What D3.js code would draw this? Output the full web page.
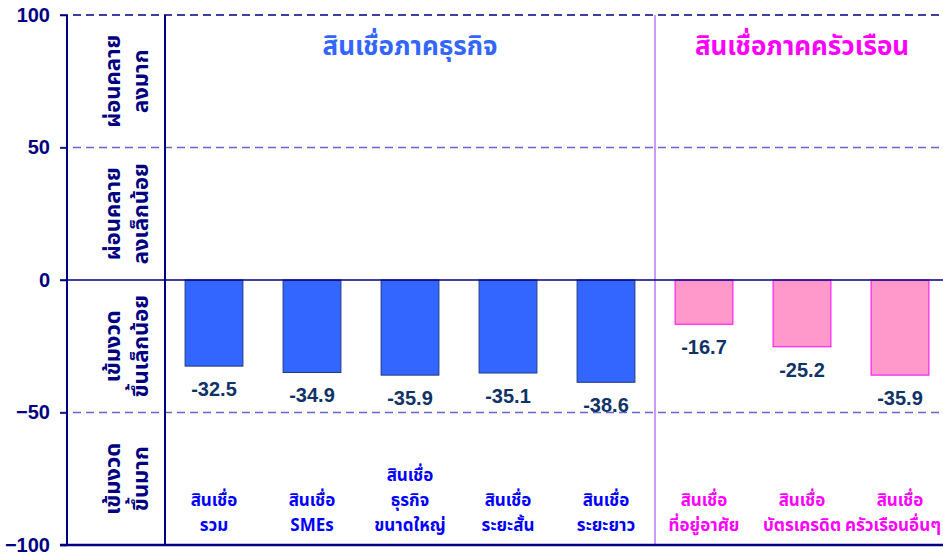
<!DOCTYPE html>
<html>
<head>
<meta charset="utf-8">
<script src="https://cdn.jsdelivr.net/npm/d3@7"></script>
<style>
  html, body { margin: 0; padding: 0; background: #fff; }
  svg { display: block; }
</style>
</head>
<body>
<div id="chart"></div>
<script>
// ── Data ──────────────────────────────────────────────
const categories = [
  ['สินเชื่อ', 'รวม'],
  ['สินเชื่อ', 'SMEs'],
  ['สินเชื่อ', 'ธุรกิจ', 'ขนาดใหญ่'],
  ['สินเชื่อ', 'ระยะสั้น'],
  ['สินเชื่อ', 'ระยะยาว'],
  ['สินเชื่อ', 'ที่อยู่อาศัย'],
  ['สินเชื่อ', 'บัตรเครดิต'],
  ['สินเชื่อ', 'ครัวเรือนอื่นๆ'],
];
const values = [-32.5, -34.9, -35.9, -35.1, -38.6, -16.7, -25.2, -35.9];
const groups = ['biz', 'biz', 'biz', 'biz', 'biz', 'hh', 'hh', 'hh'];
const groupTitles = { biz: 'สินเชื่อภาคธุรกิจ', hh: 'สินเชื่อภาคครัวเรือน' };
const yTicks = [-100, -50, 0, 50, 100];
const bandLabels = [
  { from: 50, to: 100, lines: ['ผ่อนคลาย', 'ลงมาก'] },
  { from: 0, to: 50, lines: ['ผ่อนคลาย', 'ลงเล็กน้อย'] },
  { from: -50, to: 0, lines: ['เข้มงวด', 'ขึ้นเล็กน้อย'] },
  { from: -100, to: -50, lines: ['เข้มงวด', 'ขึ้นมาก'] },
];

// ── Chart ─────────────────────────────────────────────
const W = 943, H = 554;
const FONT = "Tahoma, 'Noto Sans Thai', 'Leelawadee UI', Arial, sans-serif";
const NAVY = '#000080';
const colors = {
  biz: { fill: '#3366ff', stroke: '#1f3a80', text: '#0000ff', title: '#3366ff' },
  hh:  { fill: '#ff99cc', stroke: '#ff00ff', text: '#ff00ff', title: '#ff00ff' },
};

const svg = d3.select('#chart').append('svg')
  .attr('width', W).attr('height', H);

const axisX = 67;
const y = d3.scaleLinear().domain([-100, 100]).range([545, 15]);
const x = d3.scaleBand().domain(d3.range(categories.length))
  .range([165, 949]).paddingInner(0.41).paddingOuter(0.205);
const step = x.step();

// Grid lines
yTicks.filter(t => t === 50 || t === -50).forEach(t => {
  svg.append('line')
    .attr('x1', axisX - 7).attr('x2', W)
    .attr('y1', y(t)).attr('y2', y(t))
    .attr('stroke', '#6666cc').attr('stroke-width', 1.5)
    .attr('stroke-dasharray', '8,5');
});
svg.append('line')
  .attr('x1', axisX - 7).attr('x2', W)
  .attr('y1', y(100)).attr('y2', y(100))
  .attr('stroke', NAVY).attr('stroke-width', 1.5)
  .attr('stroke-dasharray', '8,5');

// Group dividers
const divBiz = x(0) - step * x.paddingInner() / 2;
const divHH = x(5) - step * x.paddingInner() / 2;
svg.append('line')
  .attr('x1', divBiz).attr('x2', divBiz)
  .attr('y1', y(100)).attr('y2', y(-100))
  .attr('stroke', NAVY).attr('stroke-width', 2);
svg.append('line')
  .attr('x1', divHH).attr('x2', divHH)
  .attr('y1', y(100)).attr('y2', y(-100))
  .attr('stroke', '#cc99ff').attr('stroke-width', 2);

// Bars
svg.selectAll('.bar')
  .data(values)
  .enter().append('rect')
  .attr('class', 'bar')
  .attr('x', (d, i) => x(i))
  .attr('width', x.bandwidth())
  .attr('y', d => y(Math.max(0, d)))
  .attr('height', d => Math.abs(y(d) - y(0)))
  .attr('fill', (d, i) => colors[groups[i]].fill)
  .attr('stroke', (d, i) => colors[groups[i]].stroke)
  .attr('stroke-width', 1);

// Zero line
svg.append('line')
  .attr('x1', axisX - 7).attr('x2', W)
  .attr('y1', y(0)).attr('y2', y(0))
  .attr('stroke', NAVY).attr('stroke-width', 1.5);

// Bottom line
svg.append('line')
  .attr('x1', axisX - 7).attr('x2', W)
  .attr('y1', y(-100)).attr('y2', y(-100))
  .attr('stroke', NAVY).attr('stroke-width', 2.5);

// Value labels
svg.selectAll('.val')
  .data(values)
  .enter().append('text')
  .attr('class', 'val')
  .attr('x', (d, i) => x(i) + x.bandwidth() / 2)
  .attr('y', d => y(d) + 30)
  .attr('text-anchor', 'middle')
  .attr('fill', '#0f3366')
  .attr('font-family', 'Arial, Liberation Sans, sans-serif')
  .attr('font-weight', 'bold')
  .attr('font-size', '20px')
  .text(d => d.toFixed(1));

// Category labels (bottom-aligned, kept inside the right edge)
categories.forEach((lines, i) => {
  const t = svg.append('text')
    .attr('text-anchor', 'middle')
    .attr('fill', colors[groups[i]].text)
    .attr('font-family', FONT)
    .attr('font-weight', 'bold')
    .attr('font-size', '17px');
  const lh = 25;
  const cx = x(i) + x.bandwidth() / 2;
  lines.forEach((ln, j) => {
    const ts = t.append('tspan')
      .attr('x', cx)
      .attr('y', 531 - (lines.length - 1 - j) * lh)
      .text(ln);
    const over = cx + ts.node().getComputedTextLength() / 2 - (W - 2);
    if (over > 0) ts.attr('x', cx - over);
  });
});

// Group titles
[['biz', 0, 4], ['hh', 5, 7]].forEach(([g, a, b]) => {
  const cx = (x(a) + x(b) + x.bandwidth()) / 2;
  svg.append('text')
    .attr('x', cx).attr('y', 55)
    .attr('text-anchor', 'middle')
    .attr('fill', colors[g].title)
    .attr('font-family', FONT)
    .attr('font-weight', 'bold')
    .attr('font-size', '26px')
    .text(groupTitles[g]);
});

// Y axis
const yAxis = svg.append('g')
  .attr('transform', `translate(${axisX},0)`)
  .call(d3.axisLeft(y).tickValues(yTicks).tickSize(7).tickPadding(10));
yAxis.select('.domain').remove();
yAxis.selectAll('line').attr('stroke', NAVY).attr('stroke-width', 1.5);
yAxis.selectAll('text')
  .attr('fill', NAVY)
  .attr('font-family', 'Arial, Liberation Sans, sans-serif')
  .attr('font-weight', 'bold')
  .attr('font-size', '20px');
svg.append('line')
  .attr('x1', axisX).attr('x2', axisX)
  .attr('y1', y(100)).attr('y2', y(-100))
  .attr('stroke', NAVY).attr('stroke-width', 2);

// Rotated band labels
const colCx = (axisX + divBiz) / 2;
bandLabels.forEach(b => {
  const cy = (y(b.from) + y(b.to)) / 2;
  const t = svg.append('text')
    .attr('transform', `translate(${colCx},${cy}) rotate(-90)`)
    .attr('text-anchor', 'middle')
    .attr('fill', NAVY)
    .attr('font-family', FONT)
    .attr('font-weight', 'bold')
    .attr('font-size', '22px');
  b.lines.forEach((ln, j) => {
    t.append('tspan')
      .attr('x', 0)
      .attr('y', (j === 0 ? 4 : 32))
      .text(ln);
  });
});
</script>
</body>
</html>
